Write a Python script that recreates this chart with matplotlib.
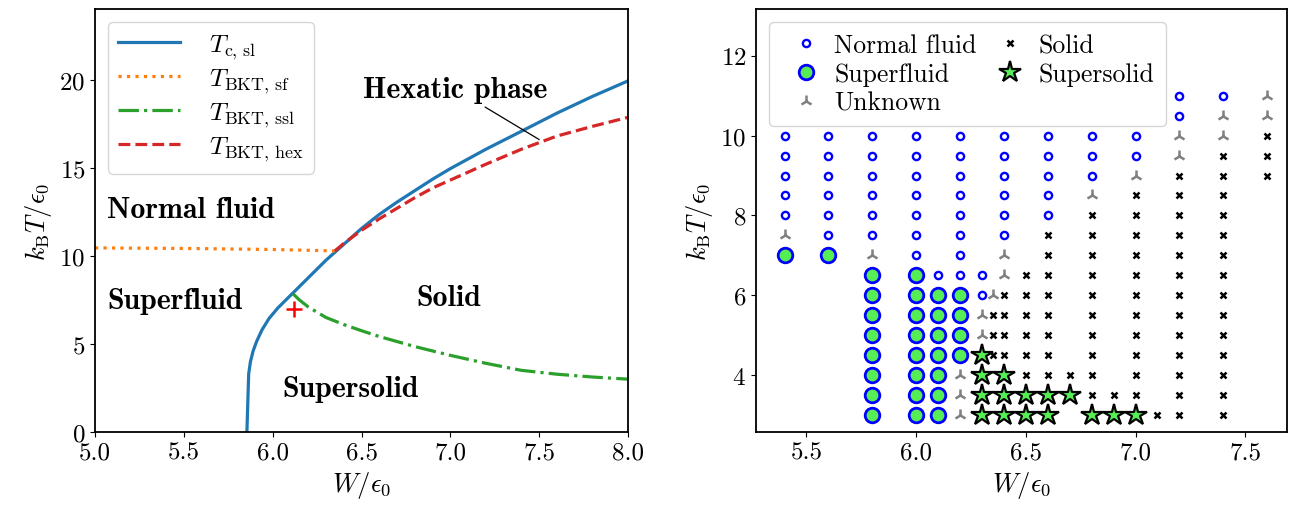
import matplotlib
matplotlib.use('agg')
import matplotlib.pyplot as plt
import numpy as np

# ---- left panel: phase boundaries ----
tc_W = [5.855, 5.865, 5.875, 5.89, 5.91, 5.94, 5.98, 6.03, 6.10, 6.2, 6.3, 6.4, 6.5,
        6.6, 6.7, 6.8, 6.9, 7.0, 7.2, 7.4, 7.6, 7.8, 8.0]
tc_T = [0.0, 3.30, 4.0, 4.6, 5.15, 5.8, 6.45, 7.05, 7.75, 8.75, 9.75, 10.65, 11.55,
        12.35, 13.05, 13.7, 14.35, 14.95, 16.05, 17.07, 18.1, 19.05, 19.93]

sf_W = [5.0, 5.5, 6.0, 6.35]
sf_T = [10.45, 10.42, 10.36, 10.28]

ssl_W = [6.115, 6.15, 6.2, 6.3, 6.4, 6.5, 6.6, 6.8, 7.0, 7.2, 7.4, 7.6, 7.8, 8.0]
ssl_T = [7.84, 7.5, 7.1, 6.5, 6.1, 5.75, 5.42, 4.85, 4.35, 3.9, 3.5, 3.28, 3.12, 3.0]

hex_W = [6.35, 6.4, 6.5, 6.6, 6.7, 6.8, 6.9, 7.0, 7.2, 7.4, 7.6, 7.8, 8.0]
hex_T = [10.28, 10.7, 11.45, 12.1, 12.7, 13.3, 13.85, 14.3, 15.2, 16.05, 16.8, 17.35, 17.86]

cross_W, cross_T = 6.12, 7.0

# ---- right panel: simulation points, {W: [T, ...]} ----
normal_pts = {
    5.4: [10, 9.5, 9, 8.5, 8],
    5.6: [10, 9.5, 9, 8.5, 8, 7.5],
    5.8: [10, 9.5, 9, 8.5, 8, 7.5],
    6.0: [10, 9.5, 9, 8.5, 8, 7.5, 7],
    6.1: [6.5],
    6.2: [10, 9.5, 9, 8.5, 8, 7.5, 7, 6.5],
    6.3: [6.5, 6],
    6.4: [10, 9.5, 9, 8.5, 8, 7.5],
    6.6: [10, 9.5, 9, 8.5, 8],
    6.8: [10, 9.5, 9],
    7.0: [10, 9.5],
    7.2: [11, 10.5],
    7.4: [11],
}
superfluid_pts = {
    5.4: [7],
    5.6: [7],
    5.8: [6.5, 6, 5.5, 5, 4.5, 4, 3.5, 3],
    6.0: [6.5, 6, 5.5, 5, 4.5, 4, 3.5, 3],
    6.1: [6, 5.5, 5, 4.5, 4, 3.5, 3],
    6.2: [6, 5.5, 5, 4.5],
}
unknown_pts = {
    5.4: [7.5],
    5.8: [7],
    6.2: [4, 3.5, 3],
    6.3: [5.5, 5],
    6.35: [6],
    6.4: [7, 6.5],
    6.8: [8.5],
    7.0: [9],
    7.2: [10, 9.5],
    7.4: [10.5, 10],
    7.6: [11, 10.5],
}
solid_pts = {
    6.35: [5.5, 5, 4.5],
    6.4: [6, 5.5, 5, 4.5],
    6.5: [6.5, 6, 5.5, 5, 4.5, 4],
    6.6: [7.5, 7, 6.5, 6, 5.5, 5, 4.5, 4],
    6.7: [4],
    6.8: [8, 7.5, 7, 6.5, 6, 5.5, 5, 4.5, 4, 3.5],
    6.9: [3.5],
    7.0: [8.5, 8, 7.5, 7, 6.5, 6, 5.5, 5, 4.5, 4, 3.5],
    7.1: [3],
    7.2: [9, 8.5, 8, 7.5, 7, 6.5, 6, 5.5, 5, 4.5, 4, 3.5, 3],
    7.4: [9.5, 9, 8.5, 8, 7.5, 7, 6.5, 6, 5.5, 5, 4.5, 4, 3.5, 3],
    7.6: [10, 9.5, 9],
}
supersolid_pts = {
    6.3: [4.5, 4, 3.5, 3],
    6.4: [4, 3.5, 3],
    6.5: [3.5, 3],
    6.6: [3.5, 3],
    6.7: [3.5],
    6.8: [3],
    6.9: [3],
    7.0: [3],
}


def flatten(pts):
    ws, ts = [], []
    for w, tl in pts.items():
        for t in tl:
            ws.append(w)
            ts.append(t)
    return ws, ts


plt.rcParams['font.family'] = 'serif'
plt.rcParams['font.serif'] = ['cmr10']
plt.rcParams['mathtext.fontset'] = 'cm'
plt.rcParams['axes.formatter.use_mathtext'] = True
plt.rcParams['font.size'] = 18
plt.rcParams['xtick.labelsize'] = 18
plt.rcParams['ytick.labelsize'] = 18
plt.rcParams['axes.labelsize'] = 19
plt.rcParams['axes.linewidth'] = 1.3

fig = plt.figure(figsize=(12.89, 5.10), dpi=100)
ax1 = fig.add_axes([0.0737, 0.151, 0.4135, 0.829])
ax2 = fig.add_axes([0.5865, 0.151, 0.4119, 0.829])

lw = 2.3
ax1.plot(tc_W, tc_T, color='C0', lw=lw, label=r'$T_{\mathrm{c,\,sl}}$')
ax1.plot(sf_W, sf_T, color='C1', lw=lw, ls=':', label=r'$T_{\mathrm{BKT,\,sf}}$')
ax1.plot(ssl_W, ssl_T, color='C2', lw=lw, ls='-.', label=r'$T_{\mathrm{BKT,\,ssl}}$')
ax1.plot(hex_W, hex_T, color='C3', lw=lw, ls='--', label=r'$T_{\mathrm{BKT,\,hex}}$')
ax1.plot([cross_W], [cross_T], marker='+', color='red', ms=12, mew=1.8, ls='none')

bold = dict(family='cmb10', fontsize=21.5)
ax1.text(5.07, 12.65, 'Normal fluid', va='center', ha='left', **bold)
ax1.text(5.07, 7.45, 'Superfluid', va='center', ha='left', **bold)
ax1.text(6.99, 7.65, 'Solid', va='center', ha='center', **bold)
ax1.text(6.44, 2.45, 'Supersolid', va='center', ha='center', **bold)
ax1.annotate('Hexatic phase', xy=(7.5, 16.6), xytext=(7.03, 19.45),
             ha='center', va='center', fontfamily='cmb10', fontsize=21.5,
             arrowprops=dict(arrowstyle='-', color='black', lw=0.9,
                             shrinkA=2, shrinkB=0))

ax1.set_xlim(5, 8)
ax1.set_ylim(0, 24)
ax1.set_xticks([5.0, 5.5, 6.0, 6.5, 7.0, 7.5, 8.0])
ax1.set_xticklabels(['5.0', '5.5', '6.0', '6.5', '7.0', '7.5', '8.0'])
ax1.set_yticks([0, 5, 10, 15, 20])
ax1.set_xlabel(r'$W/\epsilon_0$')
ax1.set_ylabel(r'$k_\mathrm{B}T/\epsilon_0$')
ax1.legend(loc='upper left', fontsize=18.5, handlelength=2.4, borderpad=0.4,
           labelspacing=0.2, handletextpad=1.15)

# right panel
w, t = flatten(normal_pts)
ax2.plot(w, t, 'o', ms=5.2, mfc='none', mec='blue', mew=1.7, label='Normal fluid')
w, t = flatten(superfluid_pts)
ax2.plot(w, t, 'o', ms=10.5, mfc='#55ee55', mec='blue', mew=2.0, label='Superfluid')
w, t = flatten(unknown_pts)
ax2.plot(w, t, '2', ms=9, color='gray', mew=1.8, label='Unknown')
w, t = flatten(solid_pts)
ax2.plot(w, t, 'x', ms=5, color='black', mew=1.8, label='Solid')
w, t = flatten(supersolid_pts)
ax2.plot(w, t, '*', ms=16, mfc='#55ee55', mec='black', mew=1.6, label='Supersolid')

ax2.set_xlim(5.27, 7.69)
ax2.set_ylim(2.57, 13.17)
ax2.set_xticks([5.5, 6.0, 6.5, 7.0, 7.5])
ax2.set_xticklabels(['5.5', '6.0', '6.5', '7.0', '7.5'])
ax2.set_yticks([4, 6, 8, 10, 12])
ax2.set_xlabel(r'$W/\epsilon_0$')
ax2.set_ylabel(r'$k_\mathrm{B}T/\epsilon_0$')
ax2.legend(loc='upper left', ncol=2, fontsize=18.5, borderpad=0.45,
           labelspacing=0.19, handlelength=2.0, handletextpad=0.1,
           columnspacing=0.3)

fig.savefig('out.png', dpi=100)
